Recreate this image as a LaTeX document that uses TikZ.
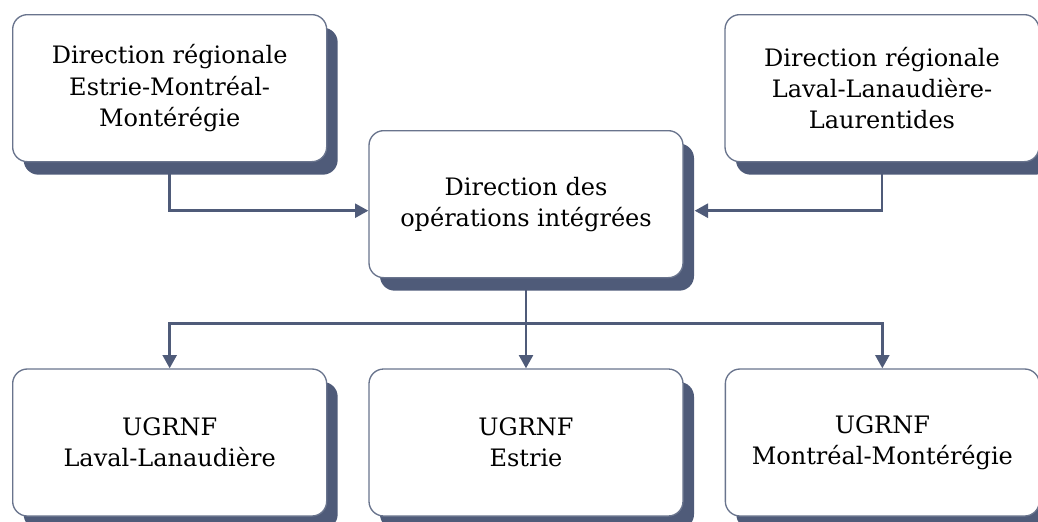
\documentclass[tikz,border=0pt]{standalone}
\usepackage{fontspec}
\setmainfont{DejaVu Serif}
\usetikzlibrary{positioning,shadows,arrows.meta,calc,backgrounds}
\definecolor{slate}{RGB}{79,91,121}

\begin{document}
\begin{tikzpicture}
 \tikzstyle{arrow} = [-{Triangle[length=10pt,width=10.5pt]},draw=slate,line width=1.9pt];
 \tikzstyle{unit}  = [rectangle,rounded corners=11pt,draw=slate!85,line width=1pt,fill=white,
                      minimum width=235.5pt,minimum height=110.25pt,align=center,inner sep=0pt,
                      font=\fontsize{18}{23.4}\selectfont,
                      drop shadow={shadow xshift=8.25pt,shadow yshift=-9.75pt,fill=slate,opacity=1}];

 \useasboundingbox (0,0) rectangle (778.5pt,-390.75pt);

 %% top row
 \node[unit,anchor=north west,name=dirEMM] at (9pt,-10.5pt) {Direction régionale\\Estrie-Montréal-\\Montérégie};
 \node[unit,name=dirLLL,right=297.75pt of dirEMM] {Direction régionale\\Laval-Lanaudière-\\Laurentides};

 %% middle
 \node[unit,name=dirOI,below right=87pt and 30.75pt of dirEMM.north east] {Direction des\\opérations intégrées};

 %% bottom row
 \node[unit,name=ugrE,below=67.5pt of dirOI] {UGRNF\\Estrie};
 \node[unit,name=ugrLL,left=30.75pt of ugrE] {UGRNF\\Laval-Lanaudière};
 \node[unit,name=ugrMM,right=30.75pt of ugrE] {UGRNF\\Montréal-Montérégie};

 \coordinate (bus) at ($(dirOI.south)!.5!(ugrE.north)$);

 \begin{scope}[on background layer]
  \draw[arrow] (dirEMM.south) |- ([yshift=-4.9pt]dirOI.west);
  \draw[arrow] (dirLLL.south) |- ([xshift=8.25pt,yshift=-4.9pt]dirOI.east);
  \draw[arrow] (dirOI.south) -- (ugrE.north);
  \draw[arrow] (bus) -| (ugrLL.north);
  \draw[arrow] (bus) -| (ugrMM.north);
 \end{scope}

\end{tikzpicture}
\end{document}
